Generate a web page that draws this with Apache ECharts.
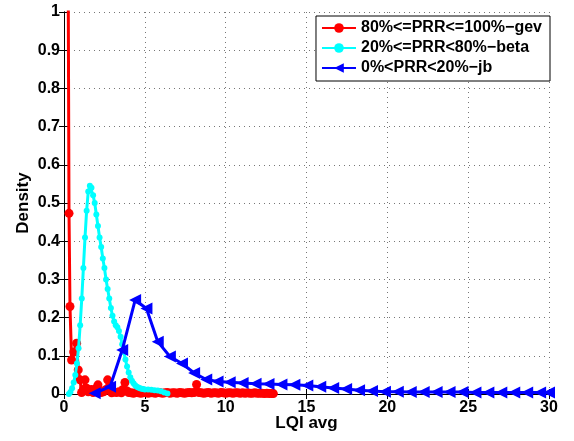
<!DOCTYPE html>
<html>
<head>
<meta charset="utf-8">
<script src="https://cdn.jsdelivr.net/npm/echarts@6/dist/echarts.min.js"></script>
<style>
  html, body { margin: 0; padding: 0; background: #fff; }
  #main { width: 574px; height: 441px; }
</style>
</head>
<body>
<div id="main"></div>
<script>
// 80%<=PRR<=100% (gev)
const gevX = [0.2, 0.31, 0.37, 0.47, 0.6, 0.78, 0.88, 0.99, 1.09, 1.2, 1.3, 1.4, 1.5, 1.6, 1.7, 1.8, 1.9, 2.0, 2.1, 2.2, 2.3, 2.45, 2.6, 2.7, 2.8, 2.95, 3.1, 3.25, 3.4, 3.55, 3.65, 3.77, 3.9, 4.0, 4.15, 4.3, 4.45, 4.6, 4.75, 4.9, 5.05, 5.2, 5.35, 5.5, 5.65, 5.8, 5.95, 6.1, 6.25, 6.4, 6.55, 6.7, 6.85, 7.0, 7.15, 7.3, 7.45, 7.6, 7.75, 7.9, 8.05, 8.2, 8.35, 8.5, 8.65, 8.8, 8.95, 9.1, 9.25, 9.4, 9.55, 9.7, 9.85, 10.0, 10.15, 10.3, 10.45, 10.6, 10.75, 10.9, 11.05, 11.2, 11.35, 11.5, 11.65, 11.8, 11.95, 12.1, 12.25, 12.4, 12.55, 12.7, 12.85, 12.95];
const gevY = [1.8, 0.473, 0.229, 0.089, 0.11, 0.133, 0.063, 0.037, 0.004, 0.012, 0.037, 0.015, 0.006, 0.01, 0.012, 0.004, 0.008, 0.015, 0.024, 0.008, 0.004, 0.006, 0.012, 0.037, 0.01, 0.003, 0.005, 0.004, 0.006, 0.003, 0.012, 0.03, 0.008, 0.004, 0.003, 0.002, 0.004, 0.003, 0.002, 0.003, 0.004, 0.002, 0.003, 0.003, 0.002, 0.004, 0.003, 0.002, 0.003, 0.004, 0.002, 0.003, 0.003, 0.002, 0.004, 0.003, 0.002, 0.003, 0.004, 0.003, 0.004, 0.025, 0.004, 0.003, 0.002, 0.003, 0.004, 0.002, 0.003, 0.003, 0.002, 0.004, 0.003, 0.002, 0.003, 0.003, 0.002, 0.003, 0.003, 0.002, 0.003, 0.002, 0.003, 0.002, 0.002, 0.003, 0.002, 0.002, 0.002, 0.001, 0.002, 0.001, 0.001, 0.001];

// 20%<=PRR<80% (beta)
const betaX = [0.3, 0.4, 0.5, 0.6, 0.7, 0.8, 0.9, 1.0, 1.1, 1.2, 1.3, 1.4, 1.5, 1.6, 1.7, 1.8, 1.9, 2.0, 2.1, 2.2, 2.3, 2.4, 2.5, 2.6, 2.7, 2.8, 2.9, 3.0, 3.1, 3.2, 3.3, 3.4, 3.5, 3.6, 3.7, 3.8, 3.9, 4.0, 4.1, 4.2, 4.3, 4.4, 4.5, 4.6, 4.7, 4.8, 4.9, 5.0, 5.2, 5.4, 5.6, 5.8, 6.0, 6.2, 6.4];
const betaY = [0.0, 0.005, 0.015, 0.03, 0.05, 0.08, 0.12, 0.18, 0.25, 0.33, 0.41, 0.48, 0.53, 0.545, 0.54, 0.52, 0.5, 0.47, 0.44, 0.41, 0.385, 0.355, 0.33, 0.3, 0.275, 0.25, 0.225, 0.205, 0.19, 0.18, 0.175, 0.165, 0.15, 0.13, 0.11, 0.09, 0.072, 0.056, 0.044, 0.035, 0.028, 0.023, 0.019, 0.017, 0.015, 0.014, 0.013, 0.012, 0.012, 0.011, 0.01, 0.009, 0.007, 0.004, 0.001];

// 0%<PRR<20% (jb)
const jbX = [1.9, 2.85, 3.6, 4.4, 5.1, 5.8, 6.55, 7.3, 8.05, 8.8, 9.5, 10.25, 11.05, 11.85, 12.65, 13.45, 14.25, 15.05, 15.85, 16.65, 17.45, 18.25, 19.05, 19.85, 20.65, 21.45, 22.25, 23.05, 23.85, 24.65, 25.45, 26.25, 27.05, 27.85, 28.65, 29.45, 30.0];
const jbY = [0.002, 0.019, 0.115, 0.246, 0.224, 0.137, 0.098, 0.08, 0.055, 0.038, 0.033, 0.031, 0.029, 0.027, 0.026, 0.025, 0.024, 0.022, 0.019, 0.016, 0.013, 0.01, 0.008, 0.006, 0.006, 0.005, 0.005, 0.005, 0.005, 0.005, 0.004, 0.004, 0.004, 0.004, 0.004, 0.004, 0.004];

const seriesNames = ["80%<=PRR<=100%\u2212gev", "20%<=PRR<80%\u2212beta", "0%<PRR<20%\u2212jb"];

const xTicks = { min: 0, max: 30, interval: 5 };
const yTicks = { min: 0, max: 1, interval: 0.1 };

const pairs = (xs, ys) => xs.map((x, i) => [x, ys[i]]);

const chartDom = document.getElementById("main");
const myChart = echarts.init(chartDom);

const font = "Liberation Sans, Arial, sans-serif";
const lbl = { color: "#000", fontFamily: font, fontWeight: "bold", fontSize: 16 };
const nameStyle = { color: "#000", fontFamily: font, fontWeight: "bold", fontSize: 17 };
const axLine = { show: true, lineStyle: { color: "#000", width: 1 } };
const tickIn = { show: true, inside: true, length: 5, lineStyle: { color: "#000" } };
const dotted = { show: true, lineStyle: { color: "#777", type: [1, 4], width: 1 } };

const option = {
  animation: false,
  backgroundColor: "#fff",
  grid: { left: 64, right: 25, top: 12, bottom: 47 },
  legend: {
    orient: "vertical",
    right: 24,
    top: 16,
    backgroundColor: "#fff",
    borderColor: "#000",
    borderWidth: 1,
    borderRadius: 0,
    padding: [4, 8, 5, 5],
    itemWidth: 34,
    itemHeight: 12,
    itemGap: 4,
    textStyle: { color: "#000", fontFamily: font, fontWeight: "bold", fontSize: 16, lineHeight: 16 },
    data: seriesNames,
  },
  xAxis: [
    {
      type: "value",
      ...xTicks,
      name: "LQI avg",
      nameLocation: "middle",
      nameGap: 21,
      nameMoveOverlap: false,
      nameTextStyle: nameStyle,
      axisLine: axLine,
      axisTick: tickIn,
      axisLabel: { ...lbl, margin: 6 },
      splitLine: dotted,
    },
    {
      type: "value",
      position: "top",
      ...xTicks,
      axisLine: axLine,
      axisTick: tickIn,
      axisLabel: { show: false },
      splitLine: { show: false },
    },
  ],
  yAxis: [
    {
      type: "value",
      ...yTicks,
      name: "Density",
      nameLocation: "middle",
      nameGap: 32,
      nameMoveOverlap: false,
      nameTextStyle: nameStyle,
      axisLine: axLine,
      axisTick: tickIn,
      axisLabel: { ...lbl, margin: 4, formatter: (v) => String(Math.round(v * 10) / 10) },
      splitLine: dotted,
    },
    {
      type: "value",
      position: "right",
      ...yTicks,
      axisLine: axLine,
      axisTick: tickIn,
      axisLabel: { show: false },
      splitLine: { show: false },
    },
  ],
  series: [
    {
      name: seriesNames[0],
      type: "line",
      data: pairs(gevX, gevY),
      symbol: "circle",
      symbolSize: 9,
      showAllSymbol: true,
      clip: true,
      itemStyle: { color: "#ff0000" },
      lineStyle: { color: "#ff0000", width: 3 },
      z: 3,
    },
    {
      name: seriesNames[1],
      type: "line",
      data: pairs(betaX, betaY),
      symbol: "circle",
      symbolSize: 6,
      showAllSymbol: true,
      clip: true,
      itemStyle: { color: "#00ffff" },
      lineStyle: { color: "#00ffff", width: 3 },
      z: 4,
    },
    {
      name: seriesNames[2],
      type: "line",
      data: pairs(jbX, jbY),
      symbol: "triangle",
      symbolRotate: 90,
      symbolSize: 12,
      showAllSymbol: true,
      clip: true,
      itemStyle: { color: "#0000ff" },
      lineStyle: { color: "#0000ff", width: 3 },
      z: 5,
    },
  ],
};

myChart.setOption(option);
</script>
</body>
</html>
